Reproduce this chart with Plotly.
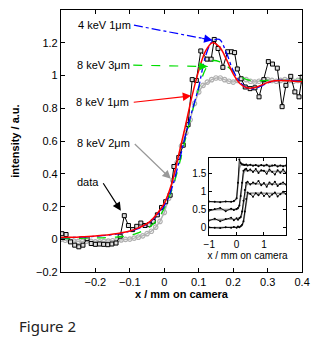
import plotly.graph_objects as go

# ---------------- main data ----------------
data_x = [-0.297, -0.285, -0.272, -0.260, -0.248, -0.236, -0.224, -0.212, -0.200, -0.188,
          -0.176, -0.164, -0.152, -0.140, -0.128, -0.116, -0.104, -0.092, -0.080, -0.068,
          -0.056, -0.044, -0.032, -0.020, -0.008, 0.004, 0.017, 0.028, 0.042, 0.055,
          0.069, 0.081, 0.093, 0.106, 0.124, 0.136, 0.145, 0.156, 0.170, 0.184,
          0.195, 0.204, 0.212, 0.223, 0.235, 0.249, 0.263, 0.275, 0.289, 0.302,
          0.314, 0.328, 0.342, 0.353, 0.367, 0.379, 0.391, 0.400]
data_y = [0.035, 0.030, -0.015, -0.035, -0.045, -0.035, 0.005, -0.025, -0.030, -0.028,
          -0.030, -0.032, -0.028, -0.022, 0.020, 0.145, 0.085, 0.060, 0.080, 0.100,
          0.085, 0.090, 0.110, 0.150, 0.195, 0.230, 0.270, 0.445, 0.500, 0.575,
          0.700, 0.975, 0.970, 1.150, 1.100, 1.100, 1.220, 1.165, 1.050, 1.145,
          1.145, 1.140, 1.040, 0.980, 0.930, 0.920, 0.925, 0.870, 0.975, 1.085,
          1.070, 1.045, 0.810, 0.940, 0.995, 0.900, 0.870, 0.990]

sim_x = [-0.30, -0.28, -0.26, -0.24, -0.22, -0.20, -0.18, -0.16, -0.14, -0.12,
         -0.10, -0.08, -0.06, -0.04, -0.02, 0.00, 0.02, 0.04, 0.06, 0.08,
         0.10, 0.12, 0.14, 0.16, 0.18, 0.20, 0.22, 0.24, 0.26, 0.28,
         0.30, 0.32, 0.34, 0.36, 0.38, 0.40]
red_8kev_1um = [0.012, 0.013, 0.014, 0.016, 0.018, 0.021, 0.025, 0.029, 0.034, 0.042,
                0.052, 0.066, 0.085, 0.112, 0.160, 0.220, 0.330, 0.500, 0.680, 0.870,
                1.030, 1.150, 1.200, 1.175, 1.100, 1.010, 0.950, 0.925, 0.925, 0.940,
                0.958, 0.968, 0.970, 0.968, 0.965, 0.963]
blue_4kev_1um = [0.010, 0.011, 0.012, 0.014, 0.016, 0.019, 0.023, 0.027, 0.032, 0.040,
                 0.050, 0.063, 0.082, 0.108, 0.150, 0.205, 0.300, 0.450, 0.620, 0.780,
                 0.930, 1.120, 1.210, 1.220, 1.140, 1.030, 0.960, 0.925, 0.920, 0.935,
                 0.955, 0.968, 0.972, 0.970, 0.968, 0.966]
green_8kev_3um = [0.005, 0.005, 0.006, 0.007, 0.008, 0.009, 0.010, 0.012, 0.014, 0.018,
                  0.025, 0.037, 0.055, 0.080, 0.120, 0.190, 0.290, 0.430, 0.600, 0.770,
                  0.920, 1.040, 1.090, 1.085, 1.060, 1.025, 0.995, 0.975, 0.968, 0.968,
                  0.970, 0.970, 0.970, 0.970, 0.970, 0.970]

gray_x = [-0.3000, -0.2875, -0.2750, -0.2625, -0.2500, -0.2375, -0.2250, -0.2125, -0.2000,
          -0.1875, -0.1750, -0.1625, -0.1500, -0.1375, -0.1250, -0.1125, -0.1000, -0.0875,
          -0.0750, -0.0625, -0.0500, -0.0375, -0.0250, -0.0125, 0.0000, 0.0125, 0.0250,
          0.0375, 0.0500, 0.0625, 0.0750, 0.0875, 0.1000, 0.1125, 0.1250, 0.1375, 0.1500,
          0.1625, 0.1750, 0.1875, 0.2000, 0.2125, 0.2250, 0.2375, 0.2500, 0.2625, 0.2750,
          0.2875, 0.3000, 0.3125, 0.3250, 0.3375, 0.3500, 0.3625, 0.3750, 0.3875, 0.4000]
gray_8kev_2um = [0.000, -0.005, -0.008, -0.010, -0.012, -0.012, -0.010, -0.012, -0.015,
                 -0.015, -0.012, -0.010, -0.008, -0.005, -0.003, 0.000, 0.002, 0.008,
                 0.014, 0.022, 0.035, 0.050, 0.075, 0.110, 0.165, 0.250, 0.360,
                 0.470, 0.570, 0.650, 0.730, 0.830, 0.900, 0.940, 0.960, 0.975, 0.985,
                 0.985, 0.975, 0.965, 0.960, 0.970, 0.980, 0.975, 0.965, 0.960, 0.965,
                 0.970, 0.975, 0.970, 0.965, 0.970, 0.975, 0.970, 0.965, 0.970, 0.965]

# ---------------- inset data ----------------
inset_x = [-1.0, -0.8, -0.6, -0.4, -0.2, -0.1, 0.0, 0.05, 0.1, 0.15, 0.2, 0.25, 0.3, 0.35,
           0.4, 0.5, 0.6, 0.7, 0.8, 0.9, 1.0, 1.1, 1.2, 1.3, 1.4, 1.5, 1.6, 1.7, 1.8]
inset_a_sim = [0.72, 0.72, 0.72, 0.72, 0.72, 0.73, 0.80, 1.20, 1.65, 1.76, 1.77, 1.76, 1.75, 1.74,
               1.74, 1.74, 1.74, 1.73, 1.73, 1.74, 1.73, 1.73, 1.72, 1.73, 1.73, 1.72, 1.72, 1.72, 1.72]
inset_a_dat = [0.73, 0.72, 0.71, 0.73, 0.72, 0.74, 0.82, 1.25, 1.90, 1.80, 1.76, 1.75, 1.74, 1.76,
               1.73, 1.75, 1.72, 1.74, 1.71, 1.74, 1.72, 1.75, 1.70, 1.73, 1.74, 1.70, 1.73, 1.71, 1.73]
inset_b_sim = [0.50, 0.50, 0.50, 0.50, 0.50, 0.50, 0.51, 0.53, 0.60, 0.85, 1.20, 1.50, 1.58, 1.60,
               1.59, 1.58, 1.58, 1.57, 1.57, 1.57, 1.57, 1.56, 1.56, 1.56, 1.56, 1.56, 1.56, 1.56, 1.56]
inset_b_dat = [0.47, 0.52, 0.55, 0.46, 0.53, 0.49, 0.52, 0.55, 0.62, 0.88, 1.25, 1.58, 1.62, 1.64,
               1.58, 1.62, 1.55, 1.63, 1.52, 1.60, 1.58, 1.50, 1.62, 1.55, 1.48, 1.60, 1.53, 1.62, 1.52]
inset_c_sim = [0.22, 0.22, 0.22, 0.23, 0.23, 0.23, 0.23, 0.24, 0.25, 0.28, 0.40, 0.70, 1.00, 1.17,
               1.22, 1.23, 1.22, 1.22, 1.21, 1.21, 1.21, 1.21, 1.21, 1.21, 1.21, 1.21, 1.21, 1.21, 1.21]
inset_c_dat = [0.20, 0.25, 0.18, 0.24, 0.28, 0.21, 0.26, 0.22, 0.27, 0.30, 0.45, 0.75, 1.05, 1.25,
               1.28, 1.20, 1.26, 1.22, 1.30, 1.18, 1.24, 1.14, 1.26, 1.20, 1.28, 1.16, 1.22, 1.26, 1.20]
inset_d_sim = [0.00, 0.00, 0.00, 0.00, 0.00, 0.00, 0.01, 0.01, 0.02, 0.03, 0.06, 0.15, 0.40, 0.75,
               0.93, 0.96, 0.96, 0.95, 0.95, 0.95, 0.95, 0.95, 0.95, 0.95, 0.95, 0.95, 0.95, 0.95, 0.95]
inset_d_dat = [0.01, 0.00, -0.01, 0.01, 0.00, 0.02, 0.00, 0.03, 0.01, 0.04, 0.08, 0.18, 0.45, 0.80,
               0.98, 0.94, 0.86, 0.96, 0.90, 0.98, 0.88, 0.95, 0.86, 0.92, 0.98, 0.87, 0.93, 1.00, 0.94]

x_ticks = [-0.2, -0.1, 0, 0.1, 0.2, 0.3, 0.4]
y_ticks = [-0.2, 0, 0.2, 0.4, 0.6, 0.8, 1.0, 1.2]
inset_x_ticks = [-1, 0, 1]
inset_y_ticks = [0, 0.5, 1, 1.5]

# label text, text anchor (x, y), arrow tip (x, y), colour, dash
labels = [
    ("4 keV 1\u03bcm", (-0.088, 1.307), (0.140, 1.215), "#0000ff", "dashdot"),
    ("8 keV 3\u03bcm", (-0.090, 1.063), (0.126, 1.055), "#00dd00", "dash"),
    ("8 keV 1\u03bcm", (-0.093, 0.836), (0.078, 0.876), "#ff0000", "solid"),
    ("8 keV 2\u03bcm", (-0.090, 0.591), (0.019, 0.370), "#999999", "solid"),
    ("data", (-0.180, 0.352), (-0.126, 0.175), "#000000", "solid"),
]

FONT = "Liberation Sans, Arial, Helvetica, sans-serif"

fig = go.Figure()

fig.add_trace(go.Scatter(x=gray_x, y=gray_8kev_2um, mode="lines+markers",
                         line=dict(color="#b4b4b4", width=1.5),
                         marker=dict(symbol="circle-open", size=4.5, color="#b0b0b0", line=dict(width=1.2))))
fig.add_trace(go.Scatter(x=data_x, y=data_y, mode="lines+markers",
                         line=dict(color="#000000", width=1),
                         marker=dict(symbol="square", size=4, color="#dddddd",
                                     line=dict(color="#000000", width=1))))
fig.add_trace(go.Scatter(x=sim_x, y=green_8kev_3um, mode="lines", line_shape="spline",
                         line=dict(color="#00dd00", width=1.3, dash="dash")))
fig.add_trace(go.Scatter(x=sim_x, y=blue_4kev_1um, mode="lines", line_shape="spline",
                         line=dict(color="#0000ff", width=1.3, dash="dashdot")))
fig.add_trace(go.Scatter(x=sim_x, y=red_8kev_1um, mode="lines", line_shape="spline",
                         line=dict(color="#ff0000", width=1.5)))

annotations = []
for text, (tx, ty), (hx, hy), col, dash in labels:
    annotations.append(dict(x=tx - 0.004, y=ty, xref="x", yref="y", text=text, showarrow=False,
                            xanchor="right", yanchor="middle",
                            font=dict(family=FONT, size=11, color="#000000")))
    if dash == "solid":
        annotations.append(dict(x=hx, y=hy, ax=tx, ay=ty, xref="x", yref="y", axref="x", ayref="y",
                                text="", showarrow=True, arrowhead=2, arrowsize=1.4,
                                arrowwidth=1.2, arrowcolor=col, standoff=0))
    else:
        fig.add_trace(go.Scatter(x=[tx, hx], y=[ty, hy], mode="lines",
                                 line=dict(color=col, width=1.2, dash=dash), hoverinfo="skip"))
        fx = tx + (hx - tx) * 0.85
        fy = ty + (hy - ty) * 0.85
        annotations.append(dict(x=hx, y=hy, ax=fx, ay=fy, xref="x", yref="y", axref="x", ayref="y",
                                text="", showarrow=True, arrowhead=2, arrowsize=1.4,
                                arrowwidth=1.2, arrowcolor=col, standoff=0))

# inset traces
for sim, dat in [(inset_a_sim, inset_a_dat), (inset_b_sim, inset_b_dat),
                 (inset_c_sim, inset_c_dat), (inset_d_sim, inset_d_dat)]:
    fig.add_trace(go.Scatter(x=inset_x, y=sim, mode="lines", xaxis="x2", yaxis="y2",
                             line=dict(color="#999999", width=1.6)))
    fig.add_trace(go.Scatter(x=inset_x, y=dat, mode="lines+markers", xaxis="x2", yaxis="y2",
                             line=dict(color="#000000", width=0.9),
                             marker=dict(size=2, color="#000000")))

annotations.append(dict(x=0.009, y=1 - 324 / 337, xref="paper", yref="paper", text="Figure 2",
                        showarrow=False, xanchor="left", yanchor="middle",
                        font=dict(family="Noto Sans, Open Sans, sans-serif", size=15, color="#222222")))

axis_common = dict(showline=True, linecolor="#000000", linewidth=1, mirror="ticks",
                   ticks="inside", ticklen=4, tickcolor="#000000", showgrid=False, zeroline=False,
                   tickfont=dict(family=FONT, size=11, color="#000000"))

fig.update_layout(
    width=327, height=337, autosize=False,
    margin=dict(l=0, r=0, t=0, b=0),
    paper_bgcolor="#ffffff", plot_bgcolor="#ffffff",
    showlegend=False,
    font=dict(family=FONT, color="#000000"),
    xaxis=dict(domain=[49 / 327, 301 / 327], range=[-0.3, 0.4], tickvals=x_ticks,
               title=dict(text="<b>x / mm on camera</b>", standoff=1,
                          font=dict(family=FONT, size=11)), anchor="y", **axis_common),
    yaxis=dict(domain=[1 - 269 / 337, 1 - 2 / 337], range=[-0.2, 1.4], tickvals=y_ticks,
               title=dict(text="<b>intensity / a.u.</b>", standoff=14,
                          font=dict(family=FONT, size=11)), anchor="x", **axis_common),
    xaxis2=dict(domain=[204 / 327, 284 / 327], range=[-1, 1.8], tickvals=inset_x_ticks,
                anchor="y2",
                title=dict(text="x / mm on camera", standoff=2, font=dict(family=FONT, size=10)),
                **{**axis_common, "tickfont": dict(family=FONT, size=10, color="#000000"), "ticklen": 3}),
    yaxis2=dict(domain=[1 - 231 / 337, 1 - 153 / 337], range=[-0.2, 1.93], tickvals=inset_y_ticks,
                anchor="x2",
                **{**axis_common, "tickfont": dict(family=FONT, size=10, color="#000000"), "ticklen": 3}),
    annotations=annotations,
)

fig.write_html("out.html")
